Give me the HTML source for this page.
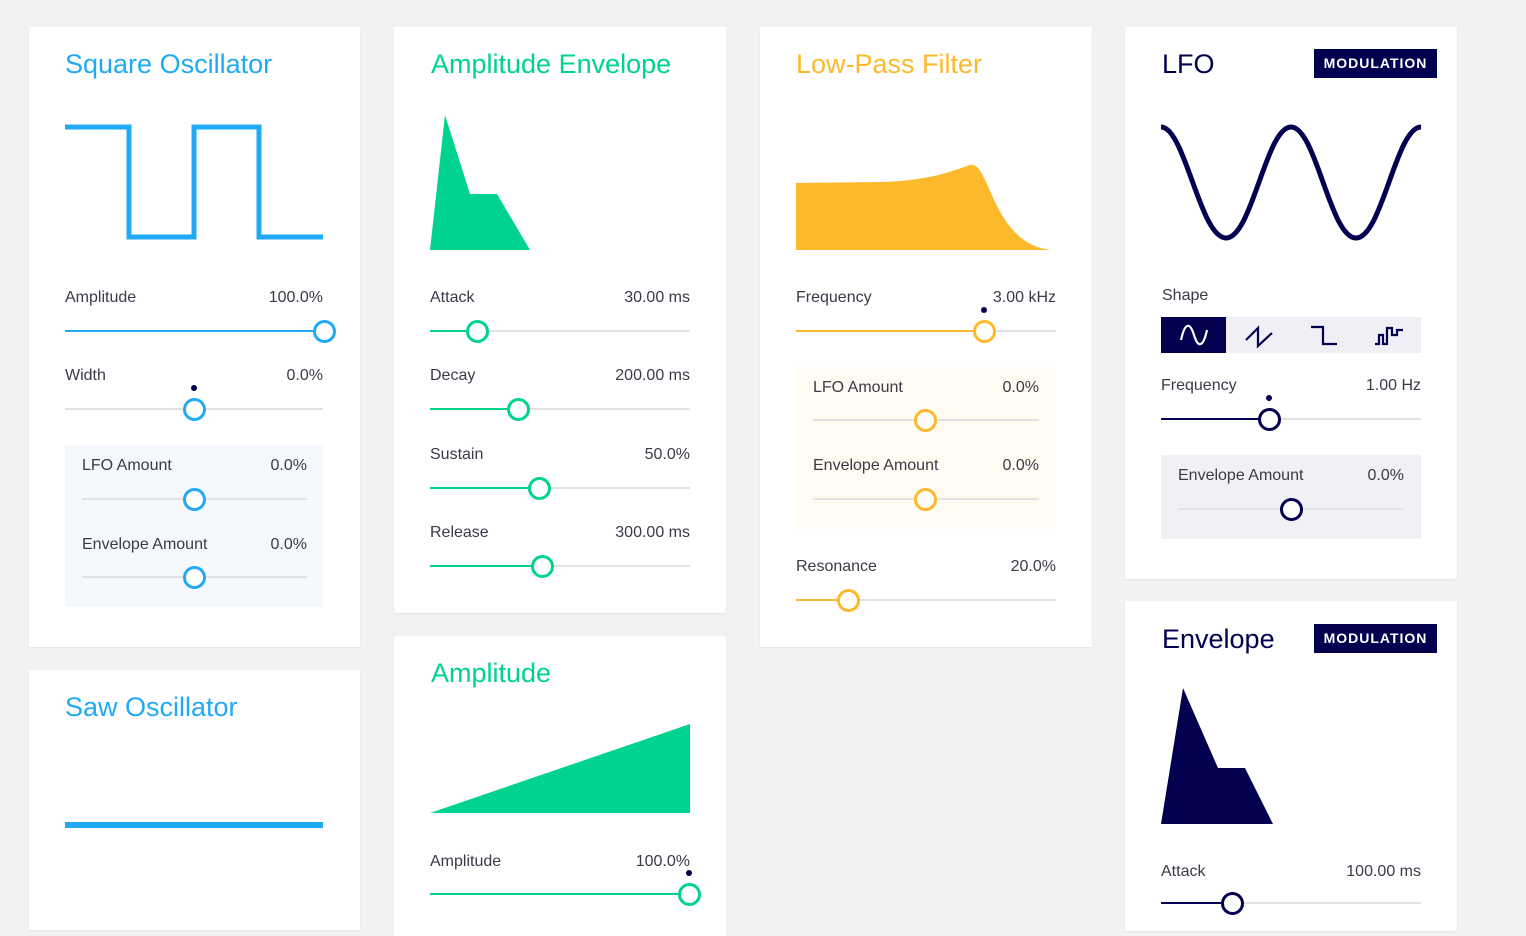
<!DOCTYPE html>
<html><head><meta charset="utf-8"><style>
body{margin:0;width:1526px;height:901px;background:#f2f2f4;overflow:hidden;position:relative;font-family:"Liberation Sans",sans-serif}
.card{position:absolute;background:#fff;box-shadow:0 1px 2px rgba(0,0,0,.06)}
.t{position:absolute;font-size:27px;line-height:1;white-space:nowrap}
.lb,.vl{position:absolute;font-size:16px;color:#3a3a48;line-height:1;white-space:nowrap}
.vl{text-align:right}
.tr{position:absolute;height:2px;background:#e1e1e6}
.fl{position:absolute;height:2px}
.th{position:absolute;width:17px;height:17px;border-radius:50%;background:#fff;border:3px solid}
.dot{position:absolute;width:6px;height:6px;border-radius:50%;background:#03004f}
.box{position:absolute}
.badge{position:absolute;background:#03004f;color:#fff;font-weight:bold;font-size:14px;letter-spacing:1px;text-align:center;line-height:29px}
</style></head><body>
<div class="card" style="left:29px;top:27px;width:331px;height:620px"></div>
<div class="card" style="left:29px;top:670px;width:331px;height:260px"></div>
<div class="card" style="left:394px;top:27px;width:332px;height:586px"></div>
<div class="card" style="left:394px;top:636px;width:332px;height:300px"></div>
<div class="card" style="left:760px;top:27px;width:332px;height:620px"></div>
<div class="card" style="left:1125px;top:27px;width:332px;height:552px"></div>
<div class="card" style="left:1125px;top:601px;width:332px;height:330px"></div>

<div class="box" style="left:65px;top:445px;width:258px;height:162px;background:#f5f9fe"></div>
<div class="box" style="left:796px;top:367px;width:260px;height:162px;background:#fffbf2"></div>
<div class="box" style="left:1161px;top:455px;width:260px;height:84px;background:#f0f0f5"></div>

<div class="t" style="left:65px;top:51px;color:#20aaf5">Square Oscillator</div>
<div class="t" style="left:65px;top:694px;color:#20aaf5">Saw Oscillator</div>
<div class="t" style="left:431px;top:51px;color:#00d28f">Amplitude Envelope</div>
<div class="t" style="left:431px;top:660px;color:#00d28f">Amplitude</div>
<div class="t" style="left:796px;top:51px;color:#fdb92c">Low-Pass Filter</div>
<div class="t" style="left:1162px;top:51px;color:#03004f">LFO</div>
<div class="t" style="left:1162px;top:626px;color:#03004f">Envelope</div>
<div class="badge" style="left:1314px;top:49px;width:123px;height:29px">MODULATION</div>
<div class="badge" style="left:1314px;top:624px;width:123px;height:29px">MODULATION</div>

<svg width="1526" height="901" style="position:absolute;left:0;top:0">
<polyline points="65,127 129,127 129,237 194,237 194,127 259,127 259,237 323,237" fill="none" stroke="#20aaf5" stroke-width="5"/>
<line x1="65" y1="825" x2="323" y2="825" stroke="#20aaf5" stroke-width="6"/>
<polygon points="430,250 445,115 470,194 497,194 530,250" fill="#00d28f"/>
<polygon points="430,813 690,724 690,813" fill="#00d28f"/>
<path d="M796,183 L880,182 C930,181 955,170 970,165 C990,160 992,245 1052,250 L796,250 Z" fill="#fdb92c"/>
<path d="M1161,127 C1185,127 1200,238 1226,238 C1252,238 1266,127 1291,127 C1316,127 1330,238 1356,238 C1382,238 1396,127 1421,127" fill="none" stroke="#03004f" stroke-width="5"/>
<polygon points="1161,824 1183,688 1218,768 1245,768 1273,824" fill="#03004f"/>
</svg>

<div class="box" style="left:1161px;top:317px;width:260px;height:36px;background:#efeff5"></div>
<div class="box" style="left:1161px;top:317px;width:65px;height:36px;background:#03004f"></div>
<div class="box" style="left:1226px;top:317px;width:65px;height:36px"></div>
<div class="box" style="left:1291px;top:317px;width:65px;height:36px"></div>
<div class="box" style="left:1356px;top:317px;width:65px;height:36px"></div>
<svg width="1526" height="901" style="position:absolute;left:0;top:0;pointer-events:none">
<path d="M1181,340 C1185,322 1190,322 1194,335 C1198,348 1203,348 1207,330" fill="none" stroke="#fff" stroke-width="2.2"/>
<path d="M1246,340 L1258,328 L1258,346 L1272,333" fill="none" stroke="#03004f" stroke-width="2.2"/>
<path d="M1311,327 L1323,327 L1323,344 L1337,344" fill="none" stroke="#03004f" stroke-width="2.2"/>
<path d="M1375,344 L1379,344 L1379,335 L1383,335 L1383,344 L1387,344 L1387,328 L1392,328 L1392,335 L1397,335 L1397,330 L1403,330" fill="none" stroke="#03004f" stroke-width="2.2"/>
</svg>

<div class="lb" style="left:1162px;top:288px">Shape</div>

<script>
const sliders=[
["square-amplitude","Amplitude","100.0%",65,323,298,331,324,"#20aaf5",false,true],
["square-width","Width","0.0%",65,323,376,409,194,"#20aaf5",true,false],
["square-lfo-amount","LFO Amount","0.0%",82,307,466,499,194,"#20aaf5",false,false],
["square-envelope-amount","Envelope Amount","0.0%",82,307,545,577,194,"#20aaf5",false,false],
["attack","Attack","30.00 ms",430,690,298,331,477,"#00d28f",false,true],
["decay","Decay","200.00 ms",430,690,376,409,518,"#00d28f",false,true],
["sustain","Sustain","50.0%",430,690,455,488,539,"#00d28f",false,true],
["release","Release","300.00 ms",430,690,533,566,542,"#00d28f",false,true],
["amplitude","Amplitude","100.0%",430,690,862,894,689,"#00d28f",true,true],
["filter-frequency","Frequency","3.00 kHz",796,1056,298,331,984,"#fdb92c",true,true],
["filter-lfo-amount","LFO Amount","0.0%",813,1039,388,420,925,"#fdb92c",false,false],
["filter-envelope-amount","Envelope Amount","0.0%",813,1039,466,499,925,"#fdb92c",false,false],
["resonance","Resonance","20.0%",796,1056,567,600,848,"#fdb92c",false,true],
["lfo-frequency","Frequency","1.00 Hz",1161,1421,386,419,1269,"#03004f",true,true],
["lfo-envelope-amount","Envelope Amount","0.0%",1178,1404,476,509,1291,"#03004f",false,false],
["envelope-attack","Attack","100.00 ms",1161,1421,872,903,1232,"#03004f",false,true]
];
for(const s of sliders){
const [n,l,v,x0,x1,ly,ty,tx,c,dot,fill]=s;
const a=document.createElement('div');a.className='lb';a.textContent=l;a.style.left=x0+'px';a.style.top=(ly-8)+'px';


document.body.appendChild(a);
const b=document.createElement('div');b.className='vl';b.textContent=v;b.style.left=(x1-150)+'px';b.style.width='150px';b.style.top=(ly-8)+'px';


document.body.appendChild(b);
const t=document.createElement('div');t.className='tr';t.style.left=x0+'px';t.style.width=(x1-x0)+'px';t.style.top=(ty-1)+'px';


document.body.appendChild(t);
if(fill){const f=document.createElement('div');f.className='fl';f.style.background=c;f.style.left=x0+'px';f.style.width=(tx-x0)+'px';f.style.top=(ty-1)+'px';


document.body.appendChild(f);}
const h=document.createElement('div');h.className='th';h.style.borderColor=c;h.style.left=(tx-11)+'px';h.style.top=(ty-11)+'px';


document.body.appendChild(h);
if(dot){const d=document.createElement('div');d.className='dot';d.style.left=(tx-3)+'px';d.style.top=(ty-24)+'px';


document.body.appendChild(d);}
}
</script>
</body></html>
